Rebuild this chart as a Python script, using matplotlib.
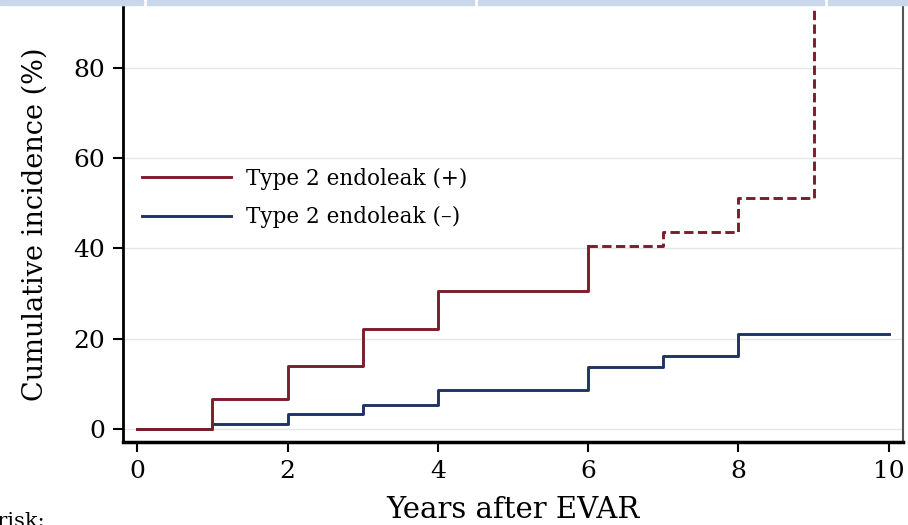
import numpy as np
import matplotlib.pyplot as plt
from matplotlib.patches import Rectangle

# cumulative incidence (%) at each year, step function
years = [0, 1, 2, 3, 4, 6, 7, 8, 9, 10]
endoleak_pos = [0, 6.6, 14.0, 22.2, 30.6, 40.6, 43.7, 51.2, 100, 100]
endoleak_neg = [0, 1.1, 3.3, 5.3, 8.6, 13.7, 16.2, 21.1, 21.1, 21.1]
solid_until = 6  # estimate gets unstable after year 6 -> dashed

red = "#7b1e2c"
blue = "#1f3463"

W, H = 908, 525
fig = plt.figure(figsize=(W / 100, H / 100), dpi=100)
plt.rcParams["font.family"] = ["DejaVu Serif"]

# header strip at the top edge
for x0, x1 in [(0, 143), (147, 474), (478, 824), (828, 908)]:
    fig.patches.append(Rectangle((x0 / W, 1 - 5 / H), (x1 - x0) / W, 5 / H,
                                 transform=fig.transFigure, color="#c8d8ea"))

ax = fig.add_axes([123 / W, 1 - 442 / H, (903 - 123) / W, (442 - 7) / H])

for yv in [0, 20, 40, 60, 80]:
    ax.axhline(yv, color="#e6e6e6", lw=1, zorder=0)

t = np.array(years)
pos = np.array(endoleak_pos)
neg = np.array(endoleak_neg)
k = years.index(solid_until)

ax.step(t, neg, where="post", color=blue, lw=2.1, label="Type 2 endoleak (\u2013)")
ax.step(t[:k + 1], pos[:k + 1], where="post", color=red, lw=2.1,
        label="Type 2 endoleak (+)")
ax.step(t[k:-1], pos[k:-1], where="post", color=red, lw=2.1, ls=(0, (3.2, 1.5)))

ax.set_xlim(-0.19, 10.19)
ax.set_ylim(-2.88, 93.5)
ax.set_xticks([0, 2, 4, 6, 8, 10])
ax.set_yticks([0, 20, 40, 60, 80])
ax.tick_params(axis="both", labelsize=18, length=7, width=1.5, color="black")
ax.tick_params(axis="y", pad=6)
ax.tick_params(axis="x", pad=6)

ax.set_xlabel("Years after EVAR", fontsize=21, labelpad=9)
ax.set_ylabel("Cumulative incidence (%)", fontsize=19.5, labelpad=18)

ax.spines["top"].set_visible(False)
ax.spines["left"].set_linewidth(2)
ax.spines["bottom"].set_linewidth(2.5)
ax.spines["right"].set_linewidth(1.5)
ax.spines["right"].set_color("#555555")

handles, labels = ax.get_legend_handles_labels()
ax.legend(handles[::-1], labels[::-1], loc="upper left",
          bbox_to_anchor=(0.0, 0.675), frameon=False, fontsize=15.5,
          handlelength=4.1, labelspacing=0.75, handletextpad=0.7)

fig.text(45 / W, -6 / H, "Number at risk:", ha="right", va="bottom", fontsize=15)

fig.savefig("out.png", dpi=100)
